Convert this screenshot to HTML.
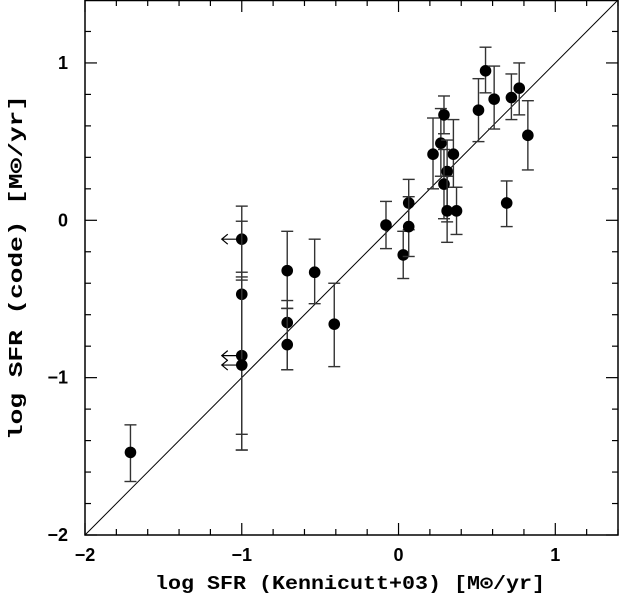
<!DOCTYPE html>
<html><head><meta charset="utf-8"><style>
body{margin:0;background:#fff;width:620px;height:598px;overflow:hidden}
svg{display:block}
</style></head><body>
<svg id="chart" width="620" height="598" xmlns="http://www.w3.org/2000/svg"></svg>
<script>
const xVals=[-1.71,-1.0,-1.0,-1.0,-1.0,-0.71,-0.71,-0.71,-0.535,-0.41,-0.08,0.03,0.065,0.065,0.22,0.27,0.29,0.35,0.31,0.29,0.31,0.37,0.51,0.555,0.61,0.69,0.72,0.77,0.825];
const yVals=[-1.475,-0.12,-0.47,-0.86,-0.92,-0.32,-0.65,-0.79,-0.33,-0.66,-0.03,-0.22,0.11,-0.04,0.42,0.49,0.67,0.42,0.31,0.23,0.06,0.06,0.70,0.95,0.77,0.11,0.78,0.84,0.54];
const yHigh=[-1.30,0.09,-0.006,-0.33,-0.38,-0.07,-0.51,-0.56,-0.12,-0.40,0.12,-0.07,0.26,0.15,0.65,0.71,0.79,0.64,0.51,0.45,0.28,0.21,0.90,1.10,0.98,0.25,0.93,1.0,0.76];
const yLow=[-1.66,-0.36,-1.36,-1.46,-1.46,-0.56,-0.95,-0.95,-0.53,-0.93,-0.18,-0.37,-0.06,-0.23,0.20,0.28,0.55,0.21,-0.01,0.01,-0.14,-0.09,0.50,0.81,0.58,-0.04,0.64,0.67,0.32];
const upperLimit=[false,true,false,true,true,false,false,false,false,false,false,false,false,false,false,false,false,false,false,false,false,false,false,false,false,false,false,false,false];
const xTicks=[-2,-1,0,1];
const yTicks=[-2,-1,0,1];
const tickLabels=["\u22122","\u22121","0","1"];

const L=85,R=618,T=0,B=535,MIN=-2,MAX=1.4;
const sx=v=>L+(v-MIN)/(MAX-MIN)*(R-L);
const sy=v=>B-(v-MIN)/(MAX-MIN)*(B-T);
const svg=document.getElementById('chart');
const NS="http://www.w3.org/2000/svg";
function mk(tag,attrs){const e=document.createElementNS(NS,tag);for(const k in attrs)e.setAttribute(k,attrs[k]);svg.appendChild(e);return e;}

for(let i=-20;i<=14;i+=2){const v=i/10;const major=Number.isInteger(v);const len=major?12:6;
 const x=sx(v),y=sy(v);
 let t=mk('line',{x1:x,y1:B,x2:x,y2:B-len,stroke:'#000','stroke-width':1.2});
 
 
 t=mk('line',{x1:x,y1:T,x2:x,y2:T+len,stroke:'#000','stroke-width':1.2});
 
 
 t=mk('line',{x1:L,y1:y,x2:L+len,y2:y,stroke:'#000','stroke-width':1.2});
 
 
 t=mk('line',{x1:R,y1:y,x2:R-len,y2:y,stroke:'#000','stroke-width':1.2});
 
 
}
xTicks.forEach((v,i)=>{const t=mk('text',{x:sx(v),y:561,'text-anchor':'middle','font-family':'Liberation Sans, sans-serif','font-size':18,'font-weight':'bold'});t.textContent=tickLabels[i];
 
 });
yTicks.forEach((v,i)=>{const t=mk('text',{x:68,y:sy(v)+6,'text-anchor':'end','font-family':'Liberation Sans, sans-serif','font-size':18,'font-weight':'bold'});t.textContent=tickLabels[i];
 
 });

const ln=mk('line',{x1:sx(-2),y1:sy(-2),x2:sx(1.4),y2:sy(1.4),stroke:'#000','stroke-width':1});



for(let i=0;i<xVals.length;i++){
 const x=sx(xVals[i]);
 const e=mk('line',{x1:x,y1:sy(yHigh[i]),x2:x,y2:sy(yLow[i]),stroke:'#333','stroke-width':1.4});
 
 
 [yHigh[i],yLow[i]].forEach(v=>{const c=mk('line',{x1:x-6,y1:sy(v),x2:x+6,y2:sy(v),stroke:'#333','stroke-width':1.4});
  
  });
 if(upperLimit[i]){const y=sy(yVals[i]);
  const a=mk('path',{d:`M${x} ${y}H${x-20}M${x-14} ${y-5}L${x-20} ${y}L${x-14} ${y+5}`,stroke:'#000',fill:'none','stroke-width':1.2});
  
  }
 const d=mk('circle',{cx:x,cy:sy(yVals[i]),r:5.8,fill:'#000'});
 
 
}
const f=mk('rect',{x:L,y:T+0.5,width:R-L,height:B-T-0.5,fill:'none',stroke:'#000','stroke-width':1.5});



const xt=mk('text',{x:155,y:589,'font-family':'Liberation Mono, monospace','font-size':19,'font-weight':'bold',textLength:390,lengthAdjust:'spacingAndGlyphs'});
xt.textContent='log SFR (Kennicutt+03) [M\u2299/yr]';


const yt=mk('text',{x:0,y:0,'font-family':'Liberation Mono, monospace','font-size':19,'font-weight':'bold',textLength:345,lengthAdjust:'spacingAndGlyphs',transform:'translate(22,440) rotate(-90)'});
yt.textContent='log SFR (code) [M\u2299/yr]';


</script>
</body></html>
